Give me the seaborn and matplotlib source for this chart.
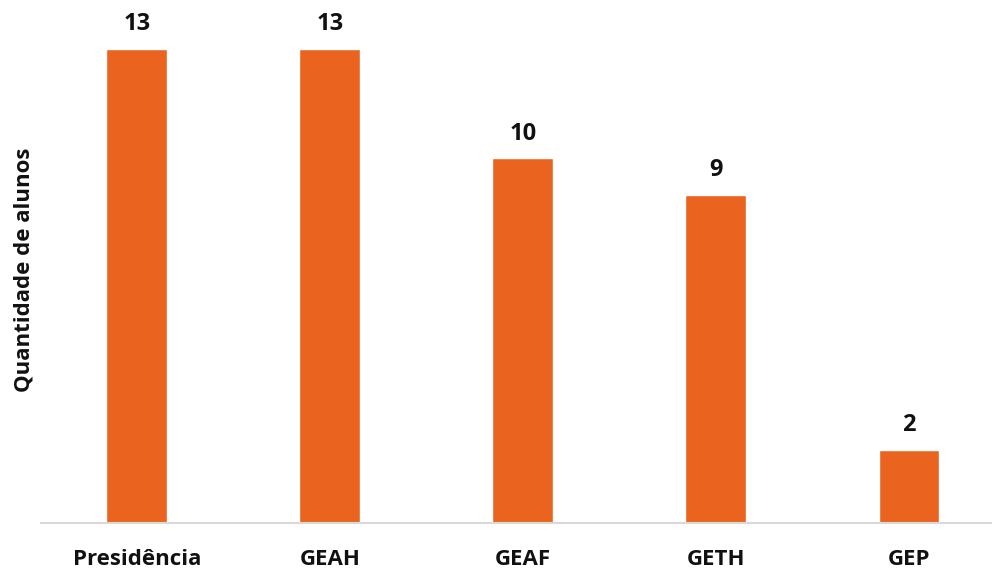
import pandas as pd
import matplotlib.pyplot as plt
import seaborn as sns

# chart data
categorias = ['Presidência', 'GEAH', 'GEAF', 'GETH', 'GEP']
alunos = [13, 13, 10, 9, 2]

df = pd.DataFrame({'setor': categorias, 'alunos': alunos})

sns.set_style("white")
plt.rcParams['font.family'] = ['Open Sans', 'DejaVu Sans']

bar_color = '#EA6420'

fig = plt.figure(figsize=(9.92, 5.70), dpi=100)
ax = fig.add_axes([0.0413, 0.0825, 0.9587, 0.9175])

sns.barplot(data=df, x='setor', y='alunos', color=bar_color, width=0.316,
            saturation=1, ax=ax)

# value labels above the bars
for i, v in enumerate(alunos):
    ax.annotate(str(v), (i, v), xytext=(0, 9), textcoords='offset points',
                ha='center', va='bottom', fontsize=17, fontweight='bold',
                color='#111111')

ax.set_xlim(-0.497, 4.43)
ax.set_ylim(0, 14.33)
ax.set_yticks([])
ax.set_xlabel('')
ax.set_ylabel('Quantidade de alunos', fontsize=16, fontweight='bold',
              color='#111111')
ax.yaxis.set_label_coords(-0.007, 0.484)
ax.tick_params(axis='x', length=0, labelsize=16, pad=19, labelcolor='#111111')
for lbl in ax.get_xticklabels():
    lbl.set_fontweight('bold')

for side in ['top', 'right', 'left']:
    ax.spines[side].set_visible(False)
ax.spines['bottom'].set_color('#D9D9D9')
ax.spines['bottom'].set_linewidth(1.5)

fig.savefig('out.png', dpi=100)
